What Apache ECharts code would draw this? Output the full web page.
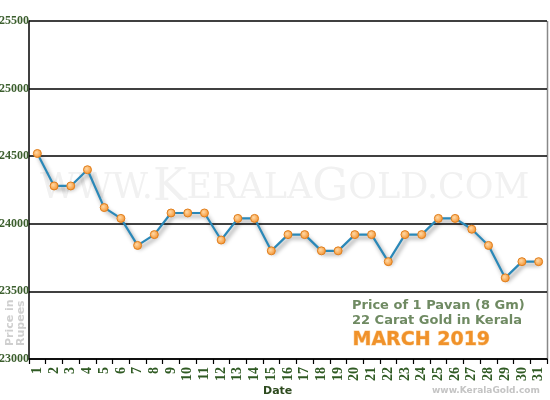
<!DOCTYPE html>
<html><head><meta charset="utf-8">
<script src="https://cdn.jsdelivr.net/npm/echarts@6/dist/echarts.min.js"></script>
<style>html,body{margin:0;padding:0;background:#fff}#c{width:550px;height:400px}</style>
</head><body><div id="c"></div>
<script>
var dates = ['1','2','3','4','5','6','7','8','9','10','11','12','13','14','15','16','17','18','19','20','21','22','23','24','25','26','27','28','29','30','31'];
var prices = [24520,24280,24280,24400,24120,24040,23840,23920,24080,24080,24080,23880,24040,24040,23800,23920,23920,23800,23800,23920,23920,23720,23920,23920,24040,24040,23960,23840,23600,23720,23720];
var yTicks = [23000,23500,24000,24500,25000,25500];

var chart = echarts.init(document.getElementById('c'));
chart.setOption({
  animation:false,
  grid:{left:29,right:3,top:21,bottom:41,outerBoundsMode:'none',containLabel:false},
  graphic:[
    {type:'text',left:40,top:166,z:0,style:{
      text:'{s|WWW.}{b|K}{s|ERALA}{b|G}{s|OLD.COM}',
      rich:{s:{fontFamily:'DejaVu Serif',fontSize:35,fill:'#f1f1f1'},b:{fontFamily:'DejaVu Serif',fontSize:45,fill:'#f1f1f1'}}
    }},
    {type:'line',shape:{x1:547.5,y1:21,x2:547.5,y2:359},style:{stroke:'#888',lineWidth:1.5}},
    {type:'text',left:352,top:299,style:{text:'Price of 1 Pavan (8 Gm)',font:'bold 13px Verdana, "DejaVu Sans"',fill:'#6f8a62'}},
    {type:'text',left:352,top:314,style:{text:'22 Carat Gold in Kerala',font:'bold 13px Verdana, "DejaVu Sans"',fill:'#6f8a62'}},
    {type:'text',left:352,top:330,style:{text:'MARCH 2019',font:'bold 19px Verdana, "DejaVu Sans"',fill:'#f0922a',stroke:'#fbd3a0',lineWidth:1}},
    {type:'text',left:432,top:386,style:{text:'www.KeralaGold.com',font:'bold 9px Verdana, "DejaVu Sans"',fill:'#c4c4c4'}},
    {type:'text',left:263,top:386,style:{text:'Date',font:'bold 11px Verdana, "DejaVu Sans"',fill:'#2d4a1e'}},
    {type:'text',x:16,y:346,rotation:Math.PI/2,style:{text:'Price in\nRupees',font:'bold 11px Verdana, "DejaVu Sans"',fill:'#cfcfcf',lineHeight:11,align:'left',verticalAlign:'middle'}}
  ],
  xAxis:{type:'category',data:dates,boundaryGap:true,
    axisLine:{lineStyle:{color:'#000',width:1.5}},
    axisTick:{show:true,length:5,lineStyle:{color:'#000',width:1.2}},
    axisLabel:{rotate:90,color:'#2f5a23',fontFamily:'Liberation Serif',fontWeight:'bold',fontSize:14,margin:8,interval:0}},
  yAxis:{type:'value',min:23000,max:25500,interval:500,
    axisLine:{show:true,lineStyle:{color:'#000',width:1.5}},
    axisTick:{show:false},
    splitLine:{lineStyle:{color:'#000',width:1.5}},
    axisLabel:{color:'#3c5f2e',fontFamily:'Liberation Serif',fontWeight:'bold',fontSize:12,margin:0,
      formatter:function(v){return yTicks.indexOf(v)>=0?String(v):'';}}},
  series:[{type:'line',data:prices,symbol:'circle',symbolSize:8,
    lineStyle:{color:'#2a88b8',width:2.2,shadowColor:'rgba(0,0,0,0.45)',shadowBlur:4,shadowOffsetX:2,shadowOffsetY:3},
    itemStyle:{color:{type:'radial',x:0.4,y:0.4,r:0.6,colorStops:[{offset:0,color:'#ffd9a6'},{offset:1,color:'#f5922e'}]},borderColor:'#e07f1d',borderWidth:1},
    z:3}]
});
</script></body></html>
